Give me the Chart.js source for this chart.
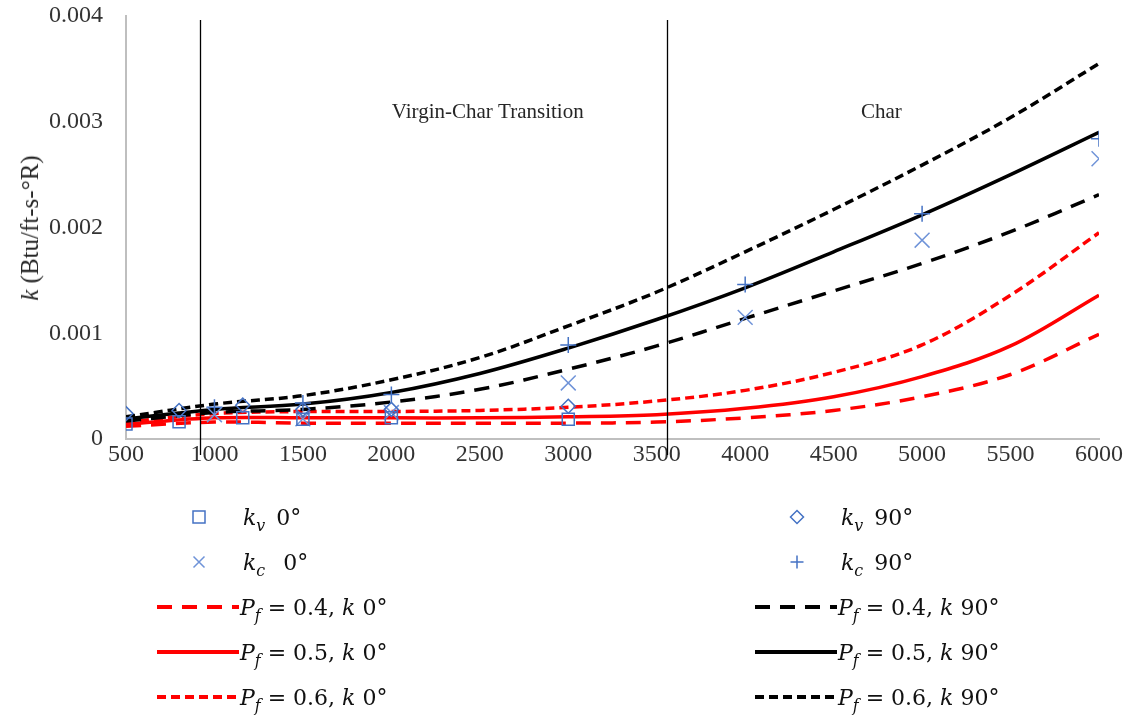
<!DOCTYPE html>
<html>
<head>
<meta charset="utf-8">
<script src="https://cdn.jsdelivr.net/npm/chart.js@4.4.1/dist/chart.umd.min.js"></script>
<style>
  html, body { margin: 0; padding: 0; background: #fff; }
  #wrap { position: relative; width: 1133px; height: 722px; overflow: hidden; }
  #chart { position: absolute; left: 0; top: 0; }
  .ytitle {
    position: absolute; left: 30px; top: 228px;
    transform: translate(-50%, -50%) rotate(-90deg);
    font-family: 'Liberation Serif', 'Times New Roman', serif;
    font-size: 25px; color: #262626; white-space: nowrap;
  }
  .lg-item {
    position: absolute; height: 30px; display: flex; align-items: center;
    font-family: 'DejaVu Serif', 'Liberation Serif', serif;
    font-size: 22px; color: #111; white-space: nowrap;
  }
  .lg-item svg { flex: none; margin-right: 1px; }
  .lg-item.mark svg { margin-right: 4px; }
  .lg-item sub { font-size: 0.72em; vertical-align: -0.4em; line-height: 0; }
</style>
</head>
<body>
<div id="wrap">
  <canvas id="chart" width="1133" height="722"></canvas>
  <div class="ytitle"><i>k</i> (Btu/ft-s-°R)</div>
  <div id="legend"></div>
</div>
<script>
// Temperature grid for the model curves
const temperature = [500, 1000, 1500, 2000, 2500, 3000, 3500, 4000, 4500, 5000, 5500, 6000];

// Model conductivity curves, k 0° (red) and k 90° (black)
const kPf04_0  = [0.00012, 0.00016, 0.00015, 0.00015, 0.00015, 0.00015, 0.00016, 0.00020, 0.00027, 0.00040, 0.00061, 0.00099];
const kPf05_0  = [0.00014, 0.00020, 0.00020, 0.00020, 0.00020, 0.00021, 0.00023, 0.00029, 0.00040, 0.00059, 0.00088, 0.00136];
const kPf06_0  = [0.00016, 0.00024, 0.00026, 0.00026, 0.00027, 0.00030, 0.00036, 0.00046, 0.00063, 0.00089, 0.00136, 0.00195];
const kPf04_90 = [0.00017, 0.00025, 0.00028, 0.00035, 0.00047, 0.00066, 0.00088, 0.00114, 0.00140, 0.00166, 0.00196, 0.00231];
const kPf05_90 = [0.00019, 0.00028, 0.00033, 0.00044, 0.00062, 0.00086, 0.00113, 0.00143, 0.00177, 0.00212, 0.00250, 0.00290];
const kPf06_90 = [0.00021, 0.00033, 0.00041, 0.00056, 0.00077, 0.00107, 0.00139, 0.00177, 0.00217, 0.00259, 0.00304, 0.00355];

// Measured virgin (kv) and char (kc) conductivity
const kvTemps  = [500, 800, 1160, 1500, 2000, 3000];
const kv0      = [0.000142, 0.000164, 0.000200, 0.000186, 0.000200, 0.000186];
const kv90     = [0.000240, 0.000270, 0.000320, 0.000280, 0.000280, 0.000310];
const kcTemps  = [1000, 1500, 2000, 3000, 4000, 5000, 6000];
const kc0      = [0.00023, 0.00019, 0.00025, 0.00053, 0.00115, 0.00188, 0.00265];
const kc90     = [0.00030, 0.00034, 0.00042, 0.00089, 0.00146, 0.00213, 0.00284];

// Axis ticks
const xTickValues = [500, 1000, 1500, 2000, 2500, 3000, 3500, 4000, 4500, 5000, 5500, 6000];
const xTickLabels = ['500', '1000', '1500', '2000', '2500', '3000', '3500', '4000', '4500', '5000', '5500', '6000'];
const yTickValues = [0, 0.001, 0.002, 0.003, 0.004];
const yTickLabels = ['0', '0.001', '0.002', '0.003', '0.004'];

// Material regions
const regionBounds = [920, 3560];
const regionNames  = ['Virgin-Char Transition', 'Char'];
const regionLabelT = [2545, 4770];
const regionLabelK = 0.00309;

const markerBlue = '#4472c4';
const markerLight = '#6f93d8';
const dashLong = [15, 10];
const dashShort = [9, 5];

const pts = (xs, ys) => xs.map((x, i) => ({ x: x, y: ys[i] }));

function markerSet(label, xs, ys, style, radius, color, legendHtml) {
  return {
    label, data: pts(xs, ys), showLine: false,
    pointStyle: style, pointRadius: radius, pointHoverRadius: radius,
    pointBorderColor: color, pointBackgroundColor: 'rgba(0,0,0,0)',
    pointBorderWidth: 1.5, borderColor: color, backgroundColor: 'rgba(0,0,0,0)',
    legendHtml
  };
}
function curveSet(label, ys, color, dash, legendHtml) {
  return {
    label, data: pts(temperature, ys), showLine: true,
    borderColor: color, backgroundColor: color, borderWidth: 3.5,
    borderDash: dash, pointRadius: 0, pointHoverRadius: 0,
    tension: 0.35, borderCapStyle: 'butt',
    legendHtml
  };
}

const pf = v => '<i>P</i><sub><i>f</i></sub> = ' + v + ', <i>k</i> ';

const datasets = [
  markerSet('kv 0°',  kvTemps, kv0,  'rect',     8.5, markerBlue,  '<i>k</i><sub><i>v</i></sub>&ensp;0°'),
  markerSet('kv 90°', kvTemps, kv90, 'rectRot',  7,   markerBlue,  '<i>k</i><sub><i>v</i></sub>&ensp;90°'),
  markerSet('kc 0°',  kcTemps, kc0,  'crossRot', 10.5, markerLight, '<i>k</i><sub><i>c</i></sub>&ensp;&nbsp;0°'),
  markerSet('kc 90°', kcTemps, kc90, 'cross',    8,   markerBlue,  '<i>k</i><sub><i>c</i></sub>&ensp;90°'),
  curveSet('Pf = 0.4, k 0°',  kPf04_0,  '#ff0000', dashLong,  pf('0.4') + '0°'),
  curveSet('Pf = 0.4, k 90°', kPf04_90, '#000000', dashLong,  pf('0.4') + '90°'),
  curveSet('Pf = 0.5, k 0°',  kPf05_0,  '#ff0000', [],        pf('0.5') + '0°'),
  curveSet('Pf = 0.5, k 90°', kPf05_90, '#000000', [],        pf('0.5') + '90°'),
  curveSet('Pf = 0.6, k 0°',  kPf06_0,  '#ff0000', dashShort, pf('0.6') + '0°'),
  curveSet('Pf = 0.6, k 90°', kPf06_90, '#000000', dashShort, pf('0.6') + '90°')
];

// Region boundaries and region names
const regionPlugin = {
  id: 'regions',
  afterDatasetsDraw(chart) {
    const { ctx, scales: { x, y }, chartArea } = chart;
    ctx.save();
    ctx.strokeStyle = '#000';
    ctx.lineWidth = 1.3;
    regionBounds.forEach(t => {
      const px = Math.round(x.getPixelForValue(t)) + 0.5;
      ctx.beginPath();
      ctx.moveTo(px, chartArea.top + 4);
      ctx.lineTo(px, chartArea.bottom + 16);
      ctx.stroke();
    });
    ctx.fillStyle = '#262626';
    ctx.font = '21px "Liberation Serif", "Times New Roman", serif';
    ctx.textAlign = 'center';
    ctx.textBaseline = 'middle';
    regionNames.forEach((name, i) => {
      ctx.fillText(name, x.getPixelForValue(regionLabelT[i]), y.getPixelForValue(regionLabelK));
    });
    ctx.restore();
  }
};

const tickFont = { family: '"Liberation Serif", "Times New Roman", serif', size: 24 };
const labelFor = (values, labels) => v => labels[values.findIndex(t => Math.abs(t - v) < 1e-9)];

new Chart(document.getElementById('chart'), {
  type: 'scatter',
  data: { datasets },
  options: {
    responsive: false,
    animation: false,
    events: [],
    layout: { padding: { left: 0, right: 34, top: 16, bottom: 0 } },
    plugins: { legend: { display: false }, tooltip: { enabled: false } },
    scales: {
      x: {
        type: 'linear', min: 500, max: 6000,
        grid: { display: false, drawTicks: false },
        border: { display: true, color: '#bfbfbf', width: 2 },
        afterBuildTicks: s => { s.ticks = xTickValues.map(v => ({ value: v })); },
        ticks: { font: tickFont, color: '#333333', padding: 1, maxRotation: 0, autoSkip: false,
                 callback: labelFor(xTickValues, xTickLabels) },
        afterFit: s => { s.height = 283; s.paddingLeft = 0; s.paddingRight = 0; }
      },
      y: {
        type: 'linear', min: 0, max: 0.004,
        grid: { display: false, drawTicks: false },
        border: { display: true, color: '#bfbfbf', width: 2 },
        afterBuildTicks: s => { s.ticks = yTickValues.map(v => ({ value: v })); },
        ticks: { font: tickFont, color: '#333333', padding: 23,
                 callback: labelFor(yTickValues, yTickLabels) },
        afterFit: s => { s.width = 126; s.paddingTop = 0; s.paddingBottom = 0; }
      }
    }
  },
  plugins: [regionPlugin]
});

// Legend: two columns, 0° on the left and 90° on the right
function swatch(ds) {
  const w = 82, h = 24, cy = h / 2, cx = 42;
  let body = '';
  if (ds.showLine) {
    const dash = ds.borderDash.length ? ' stroke-dasharray="' + ds.borderDash.join(' ') + '"' : '';
    body = '<line x1="0" y1="' + cy + '" x2="' + w + '" y2="' + cy + '" stroke="' + ds.borderColor +
           '" stroke-width="4"' + dash + '/>';
  } else {
    const c = ds.borderColor, sw = 'stroke="' + c + '" stroke-width="1.5" fill="none"';
    if (ds.pointStyle === 'rect') body = '<rect x="' + (cx - 6) + '" y="' + (cy - 6) + '" width="12" height="12" ' + sw + '/>';
    if (ds.pointStyle === 'rectRot') body = '<polygon points="' + cx + ',' + (cy - 6.5) + ' ' + (cx + 6.5) + ',' + cy + ' ' + cx + ',' + (cy + 6.5) + ' ' + (cx - 6.5) + ',' + cy + '" ' + sw + '/>';
    if (ds.pointStyle === 'crossRot') body = '<path d="M' + (cx - 5.5) + ' ' + (cy - 5.5) + 'L' + (cx + 5.5) + ' ' + (cy + 5.5) + 'M' + (cx + 5.5) + ' ' + (cy - 5.5) + 'L' + (cx - 5.5) + ' ' + (cy + 5.5) + '" ' + sw + '/>';
    if (ds.pointStyle === 'cross') body = '<path d="M' + (cx - 6.5) + ' ' + cy + 'L' + (cx + 6.5) + ' ' + cy + 'M' + cx + ' ' + (cy - 6.5) + 'L' + cx + ' ' + (cy + 6.5) + '" ' + sw + '/>';
  }
  return '<svg width="' + w + '" height="' + h + '" viewBox="0 0 ' + w + ' ' + h + '">' + body + '</svg>';
}
const legendColumns = [
  ['kv 0°', 'kc 0°', 'Pf = 0.4, k 0°', 'Pf = 0.5, k 0°', 'Pf = 0.6, k 0°'],
  ['kv 90°', 'kc 90°', 'Pf = 0.4, k 90°', 'Pf = 0.5, k 90°', 'Pf = 0.6, k 90°']
];
const legendColLeft = [157, 755];
const legendRowTop = [502, 547, 592, 637, 682];
const legendEl = document.getElementById('legend');
legendColumns.forEach((col, ci) => {
  col.forEach((label, ri) => {
    const ds = datasets.find(d => d.label === label);
    const item = document.createElement('div');
    item.className = 'lg-item' + (ds.showLine ? '' : ' mark');
    item.style.left = legendColLeft[ci] + 'px';
    item.style.top = legendRowTop[ri] + 'px';
    item.innerHTML = swatch(ds) + '<span>' + ds.legendHtml + '</span>';
    legendEl.appendChild(item);
  });
});
</script>
</body>
</html>
